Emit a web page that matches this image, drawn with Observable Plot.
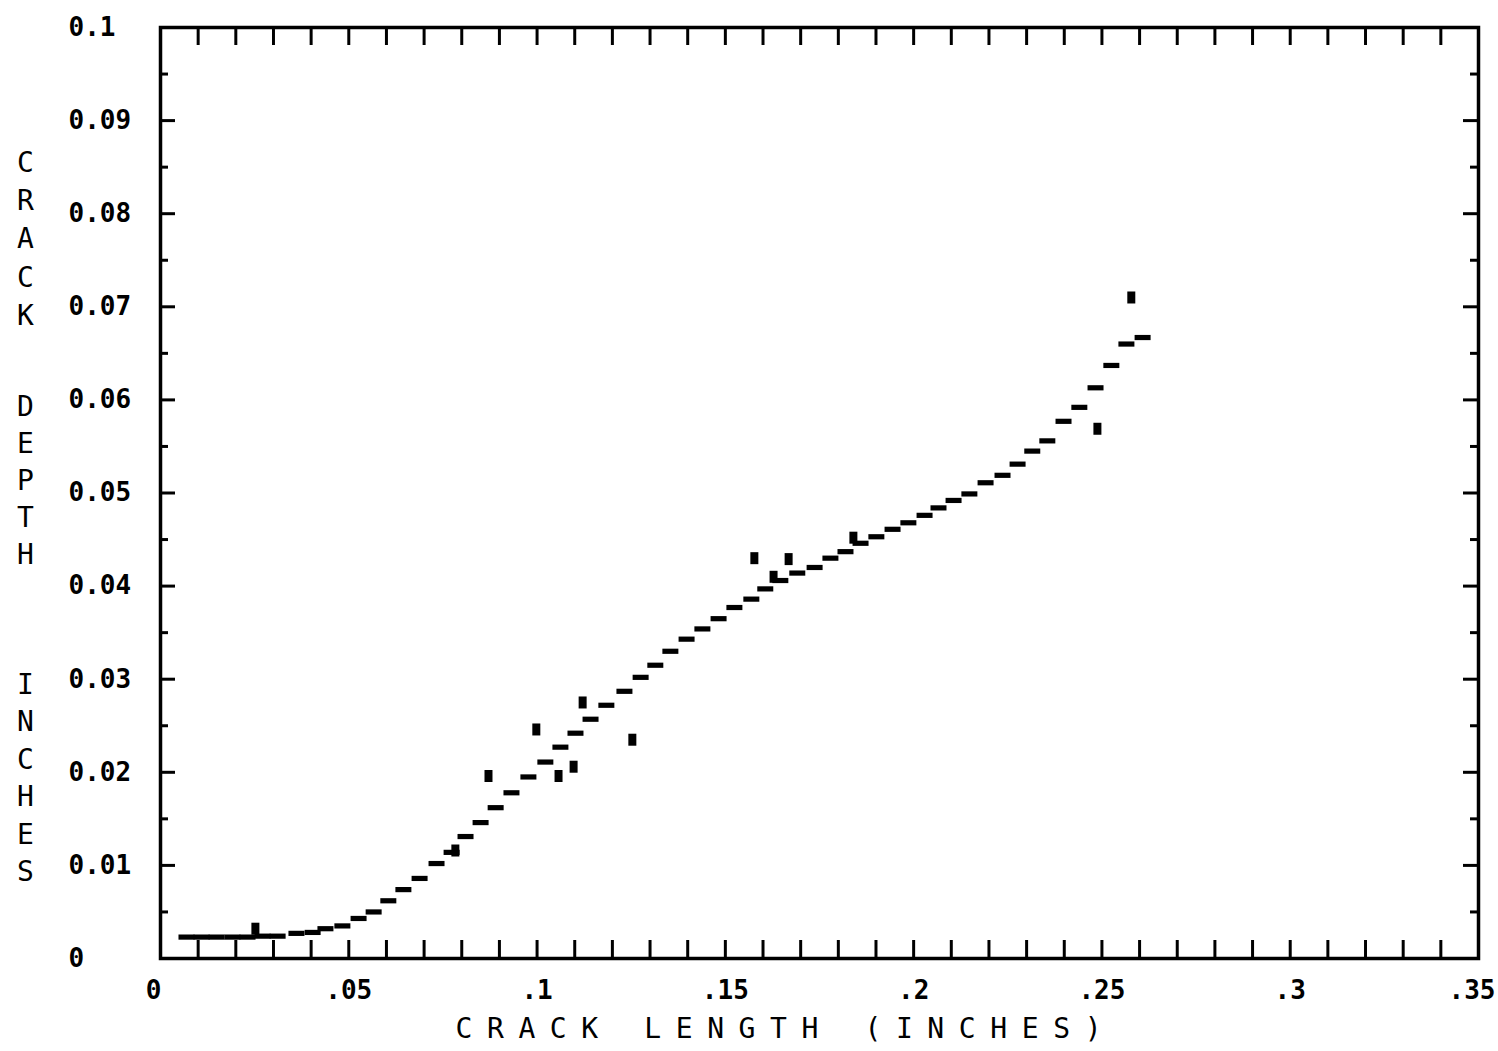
<!DOCTYPE html>
<html>
<head>
<meta charset="utf-8">
<script src="https://cdn.jsdelivr.net/npm/d3@7"></script>
<script src="https://cdn.jsdelivr.net/npm/@observablehq/plot@0.6"></script>
<style>
  html, body { margin: 0; padding: 0; background: #fff; }
</style>
</head>
<body>
<div id="chart"></div>
<script>
// Fitted curve (drawn as short horizontal dashes)
const curveX = [0.0069,0.0109,0.0149,0.0191,0.0231,0.0271,0.0311,0.0361,0.0404,0.0438,0.0483,0.0526,0.0566,0.0605,0.0645,0.0688,0.0733,0.0773,0.0810,0.0850,0.0890,0.0932,0.0977,0.1022,0.1062,0.1102,0.1142,0.1184,0.1232,0.1275,0.1314,0.1354,0.1397,0.1439,0.1482,0.1524,0.1569,0.1606,0.1646,0.1691,0.1737,0.1779,0.1819,0.1859,0.1901,0.1944,0.1986,0.2029,0.2066,0.2106,0.2148,0.2191,0.2236,0.2276,0.2315,0.2355,0.2398,0.2440,0.2483,0.2525,0.2565,0.2608];
const curveY = [0.0023,0.0023,0.0023,0.0023,0.0023,0.0024,0.0024,0.0027,0.0028,0.0032,0.0035,0.0043,0.0050,0.0062,0.0074,0.0086,0.0102,0.0114,0.0131,0.0146,0.0162,0.0178,0.0195,0.0211,0.0227,0.0242,0.0257,0.0272,0.0287,0.0302,0.0315,0.0330,0.0343,0.0354,0.0365,0.0377,0.0386,0.0397,0.0406,0.0414,0.0420,0.0430,0.0437,0.0446,0.0453,0.0461,0.0468,0.0476,0.0484,0.0492,0.0499,0.0511,0.0519,0.0531,0.0545,0.0556,0.0577,0.0592,0.0613,0.0637,0.0660,0.0667];

// Measured data points
const pointX = [0.0252,0.0783,0.0871,0.0998,0.1057,0.1097,0.1121,0.1253,0.1577,0.1628,0.1668,0.1840,0.2488,0.2578];
const pointY = [0.0032,0.0116,0.0196,0.0246,0.0196,0.0206,0.0275,0.0235,0.0430,0.0410,0.0429,0.0452,0.0569,0.0710];

// Tick labels
const xLabelTicks = [0, 0.05, 0.1, 0.15, 0.2, 0.25, 0.3, 0.35];
const xLabelText = ["0", ".05", ".1", ".15", ".2", ".25", ".3", ".35"];
const yLabelTicks = [0, 0.01, 0.02, 0.03, 0.04, 0.05, 0.06, 0.07, 0.08, 0.09, 0.1];
const yLabelText = ["0", "0.01", "0.02", "0.03", "0.04", "0.05", "0.06", "0.07", "0.08", "0.09", "0.1"];

// Tick marks
const xTickValues = d3.range(1, 35).map(i => i / 100);
const yMajorTickValues = d3.range(1, 10).map(i => i / 100);
const yMinorTickValues = d3.range(0, 10).map(i => (2 * i + 1) / 200);

// Titles
const xTitle = "CRACK LENGTH (INCHES)";
const yTitleWords = ["CRACK", "DEPTH", "INCHES"];

const W = 1498, H = 1051;
const mL = 160, mR = 20, mT = 27, mB = 93;
const frameW = W - mL - mR, frameH = H - mT - mB;
const font = "'DejaVu Sans Mono', 'Liberation Mono', monospace";

const curve = curveX.map((x, i) => ({x, y: curveY[i]}));
const points = pointX.map((x, i) => ({x, y: pointY[i]}));
const xLabels = xLabelTicks.map((v, i) => ({v, t: xLabelText[i]}));
const yLabels = yLabelTicks.map((v, i) => ({v, t: yLabelText[i]}));
const xLabelsMid = xLabels.slice(1, -1);
const xLabelFirst = xLabels.slice(0, 1);
const xLabelLast = xLabels.slice(-1);

const dashSymbol = {draw(ctx) {
  ctx.moveTo(-8, -2.6); ctx.lineTo(8, -2.6); ctx.lineTo(8, 2.6); ctx.lineTo(-8, 2.6); ctx.closePath();
}};
const squareSymbol = {draw(ctx) {
  ctx.moveTo(-4, -6); ctx.lineTo(4, -6); ctx.lineTo(4, 6); ctx.lineTo(-4, 6); ctx.closePath();
}};

const tickStyle = {stroke: "black", strokeWidth: 3};
const labelStyle = {fontSize: 26, fontWeight: "bold", fill: "black", lineAnchor: "middle", frameAnchor: "bottom", dy: 32};
// y title word layout: [dy from frame top to cap top, line height px]
const yTitleLayout = [[117, 38.3], [362, 37], [640, 37.4]];

const svg = Plot.plot({
  width: W, height: H,
  marginLeft: mL, marginRight: mR, marginTop: mT, marginBottom: mB,
  x: {domain: [0, 0.35], axis: null},
  y: {domain: [0, 0.1], axis: null},
  style: {background: "white", fontFamily: font, color: "black"},
  marks: [
    Plot.tickX(xTickValues, {x: d => d, insetTop: frameH - 18, ...tickStyle}),
    Plot.tickX(xTickValues, {x: d => d, insetBottom: frameH - 18, ...tickStyle}),
    Plot.tickY(yMajorTickValues, {y: d => d, insetRight: frameW - 15, ...tickStyle}),
    Plot.tickY(yMinorTickValues, {y: d => d, insetRight: frameW - 8, ...tickStyle}),
    Plot.tickY(yMajorTickValues, {y: d => d, insetLeft: frameW - 15, ...tickStyle}),
    Plot.tickY(yMinorTickValues, {y: d => d, insetLeft: frameW - 8, ...tickStyle}),
    Plot.frame({stroke: "black", strokeWidth: 3.5}),
    Plot.text(xLabelsMid, {x: "v", text: "t", ...labelStyle}),
    Plot.text(xLabelFirst, {x: "v", text: "t", ...labelStyle, dx: -7}),
    Plot.text(xLabelLast, {x: "v", text: "t", ...labelStyle, textAnchor: "end", dx: 17}),
    Plot.text(yLabels, {y: "v", text: "t", frameAnchor: "left", dx: -92, textAnchor: "start", lineAnchor: "middle",
      fontSize: 26, fontWeight: "bold", fill: "black"}),
    Plot.dot(curve, {x: "x", y: "y", symbol: dashSymbol, fill: "black"}),
    Plot.dot(points, {x: "x", y: "y", symbol: squareSymbol, fill: "black"}),
    Plot.text([xTitle], {text: d => d, frameAnchor: "bottom-left", dx: 295, dy: 71, textAnchor: "start",
      lineAnchor: "middle", fontSize: 28, fill: "black"}),
    ...yTitleWords.map((w, i) => Plot.text([w], {
      text: d => d.split("").join("\n"), frameAnchor: "top-left", dx: -135, dy: yTitleLayout[i][0],
      textAnchor: "middle", lineAnchor: "top", lineHeight: yTitleLayout[i][1] / 28,
      fontSize: 28, fill: "black"
    }))
  ]
});

d3.select(svg).selectAll("text")
  .filter(function() { return this.textContent === xTitle; })
  .style("letter-spacing", "14.6px");
document.getElementById("chart").appendChild(svg);
</script>
</body>
</html>
